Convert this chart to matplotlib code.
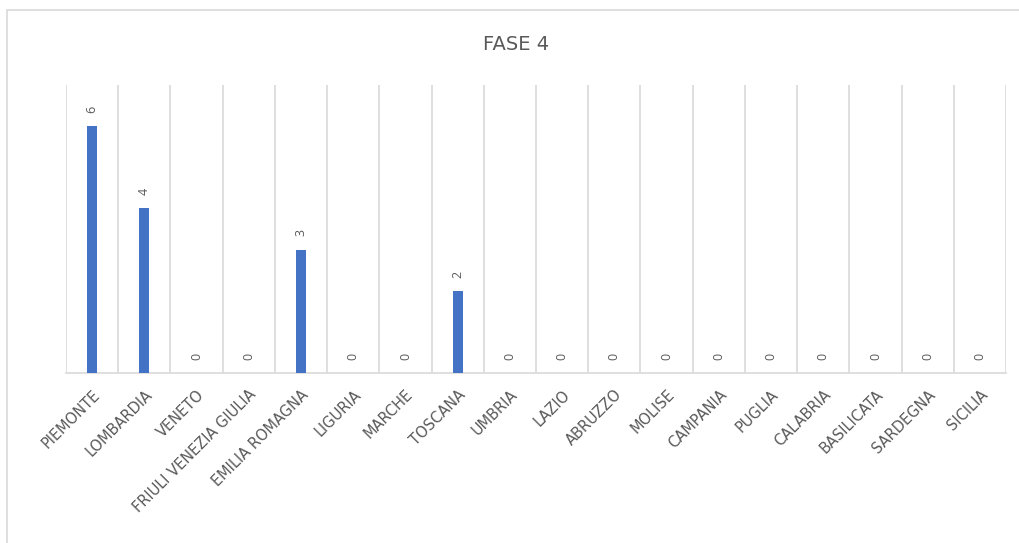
import matplotlib
matplotlib.use("Agg")
import matplotlib.pyplot as plt
from matplotlib.patches import Rectangle

regions = ["PIEMONTE", "LOMBARDIA", "VENETO", "FRIULI VENEZIA GIULIA", "EMILIA ROMAGNA",
           "LIGURIA", "MARCHE", "TOSCANA", "UMBRIA", "LAZIO", "ABRUZZO", "MOLISE",
           "CAMPANIA", "PUGLIA", "CALABRIA", "BASILICATA", "SARDEGNA", "SICILIA"]
values = [6, 4, 0, 0, 3, 0, 0, 2, 0, 0, 0, 0, 0, 0, 0, 0, 0, 0]
title = "FASE 4"

plt.rcParams['font.family'] = ['Open Sans', 'DejaVu Sans']
W, H = 1019, 543
fig = plt.figure(figsize=(W / 100, H / 100), dpi=100)
fig.patch.set_facecolor("white")

# outer chart border
fig.add_artist(Rectangle((7 / W, -0.1), 1.2, 1 - 10 / H + 0.1, transform=fig.transFigure,
                         fill=False, edgecolor="#d9d9d9", linewidth=1.2))

ax = fig.add_axes([66 / W, 1 - 373 / H, (1006 - 66) / W, (373 - 85) / H])
n = len(regions)
x = list(range(n))
ax.bar(x, values, width=0.19, color="#4472c4", zorder=3)
ax.set_xlim(-0.5, n - 0.5)
ax.set_ylim(0, 7)

for b in range(n + 1):
    ax.axvline(b - 0.5, color="#d9d9d9", linewidth=1.2, zorder=1)
for s in ["top", "left", "right"]:
    ax.spines[s].set_visible(False)
ax.spines["bottom"].set_color("#d9d9d9")
ax.spines["bottom"].set_linewidth(1.2)
ax.set_yticks([])
ax.set_xticks(x)
ax.set_xticklabels(regions, rotation=45, ha="right", rotation_mode="anchor",
                   fontsize=10.5, color="#595959", family=["DejaVu Sans"])
ax.tick_params(axis="x", length=0, pad=10)

for xi, v in zip(x, values):
    ax.annotate(str(v), (xi, v), xytext=(0, 9.5), textcoords="offset points",
                rotation=90, ha="center", va="bottom", fontsize=9, color="#595959")

fig.text(516 / W, 1 - 45 / H, title, ha="center", va="center", fontsize=14,
         color="#595959", family=["DejaVu Sans"])

fig.savefig("out.png", dpi=100)
